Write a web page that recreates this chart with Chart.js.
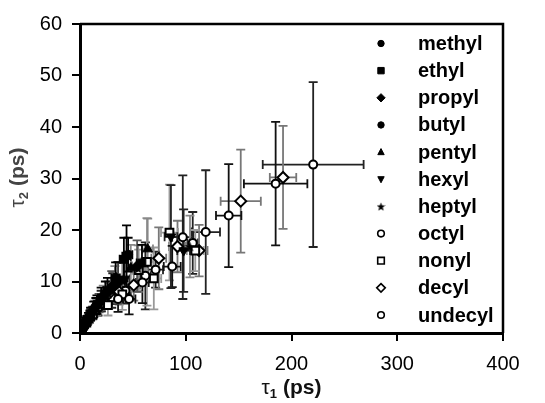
<!DOCTYPE html>
<html>
<head>
<meta charset="utf-8">
<script src="https://cdn.jsdelivr.net/npm/chart.js@4.4.1/dist/chart.umd.min.js"></script>
<style>
  html, body { margin: 0; padding: 0; background: #fff; }
  #wrap { width: 545px; height: 403px; position: relative; }
</style>
</head>
<body>
<div id="wrap"><canvas id="c" width="545" height="403"></canvas></div>
<script>
// ---- Data ----
const seriesNames = ['methyl','ethyl','propyl','butyl','pentyl','hexyl','heptyl','octyl','nonyl','decyl','undecyl'];
const xTicks = [0, 100, 200, 300, 400];
const yTicks = [0, 10, 20, 30, 40, 50, 60];

const methylX  = [0.8, 1.5, 3, 5, 8, 13, 20, 33.7, 44];
const methylY  = [0.3, 0.6, 1.2, 2, 3, 4.6, 6.8, 10.7, 14.9];
const methylXe = [0.2, 0.3, 0.5, 0.8, 1.2, 2, 3, 4, 4];
const methylYe = [0.1, 0.2, 0.4, 0.6, 0.9, 1.5, 2, 3, 6];

const ethylX  = [1, 2, 4, 6.5, 10, 16, 26, 41.5, 58.6];
const ethylY  = [0.4, 0.8, 1.6, 2.5, 3.7, 5.5, 8.2, 14.3, 13.6];
const ethylXe = [0.2, 0.4, 0.6, 1, 1.5, 2.5, 4, 4, 5];
const ethylYe = [0.1, 0.3, 0.5, 0.8, 1.2, 1.8, 2.5, 4.2, 3.5];

const propylX  = [1.2, 2.5, 4.5, 7.5, 11, 18, 30, 35.8, 54];
const propylY  = [0.4, 0.9, 1.6, 2.6, 3.8, 5.8, 9, 9.7, 13];
const propylXe = [0.2, 0.4, 0.7, 1, 1.6, 2.5, 4, 4, 5];
const propylYe = [0.1, 0.3, 0.5, 0.8, 1.1, 1.8, 3, 4, 5];

const butylX  = [0.6, 1.8, 3.5, 6, 9.5, 15, 24, 36, 45.5];
const butylY  = [0.2, 0.7, 1.4, 2.3, 3.4, 5.2, 7.6, 10.2, 15.2];
const butylXe = [0.2, 0.3, 0.6, 1, 1.5, 2.2, 3.5, 4, 4];
const butylYe = [0.1, 0.2, 0.4, 0.7, 1, 1.6, 2.4, 3.6, 3.3];

const pentylX  = [1.4, 3, 5.5, 9, 14, 22, 33, 48, 64];
const pentylY  = [0.5, 1.1, 2, 3.2, 4.8, 7, 9.8, 12.6, 16.3];
const pentylXe = [0.3, 0.5, 0.8, 1.3, 2, 3, 4, 5, 5];
const pentylYe = [0.2, 0.4, 0.6, 1, 1.5, 2.2, 3.2, 4.5, 5.9];

const hexylX  = [1, 2.2, 4, 7, 12, 20, 31, 42, 86, 98];
const hexylY  = [0.3, 0.8, 1.4, 2.4, 3.9, 6.2, 8.6, 10.5, 18.7, 16];
const hexylXe = [0.2, 0.4, 0.6, 1, 1.8, 3, 4, 5, 6, 6];
const hexylYe = [0.1, 0.3, 0.5, 0.8, 1.2, 2, 3, 4, 10, 8];

const heptylX  = [1.6, 3.2, 6, 10, 16, 27, 40, 55, 104];
const heptylY  = [0.5, 1.1, 2.1, 3.4, 5, 7.6, 10.3, 12.5, 16.8];
const heptylXe = [0.3, 0.5, 0.9, 1.5, 2.5, 3.5, 5, 6, 6];
const heptylYe = [0.2, 0.4, 0.7, 1.1, 1.6, 2.4, 3.5, 4.5, 6];

const octylX  = [4, 9, 17, 36, 46.4, 59, 87.2, 140.6, 185];
const octylY  = [1.4, 3, 4.9, 6.6, 6.6, 9.8, 12.9, 22.8, 29];
const octylXe = [0.8, 1.5, 3, 5, 6, 6, 8, 12, 30];
const octylYe = [0.4, 1, 1.5, 2.5, 3, 4, 4, 10, 12];

const nonylX  = [6, 12, 26.4, 40, 55.5, 63.3, 69.8, 84.6, 109];
const nonylY  = [2, 3.6, 5.4, 7.5, 12.2, 13.8, 10.6, 19.5, 16];
const nonylXe = [1, 2, 4, 5, 6, 6, 7, 8, 8];
const nonylYe = [0.6, 1, 2, 3, 4, 8.5, 6, 9.3, 4];

const decylX  = [8, 16, 27.6, 37, 50.8, 74.5, 92.2, 112.6, 152, 192];
const decylY  = [2.6, 4.6, 7.7, 8, 9.3, 14.5, 16.8, 16, 25.6, 30.2];
const decylXe = [1.5, 2.5, 4, 5, 6, 7, 8, 8, 19, 12.5];
const decylYe = [0.6, 1.2, 2, 2.5, 3, 6, 5, 5, 10, 10];

const undecylX  = [10, 20, 30, 43, 61.8, 71.5, 97.2, 106.6, 118.9, 220.5];
const undecylY  = [3.4, 5.7, 6.9, 8.2, 11.1, 12.3, 18.6, 17.5, 19.6, 32.7];
const undecylXe = [1.5, 3, 4, 5, 5, 7, 10, 5, 13.5, 47.7];
const undecylYe = [0.8, 1.5, 2, 2.5, 6.5, 3.5, 12, 6, 12, 16];

const allX  = [methylX, ethylX, propylX, butylX, pentylX, hexylX, heptylX, octylX, nonylX, decylX, undecylX];
const allY  = [methylY, ethylY, propylY, butylY, pentylY, hexylY, heptylY, octylY, nonylY, decylY, undecylY];
const allXe = [methylXe, ethylXe, propylXe, butylXe, pentylXe, hexylXe, heptylXe, octylXe, nonylXe, decylXe, undecylXe];
const allYe = [methylYe, ethylYe, propylYe, butylYe, pentylYe, hexylYe, heptylYe, octylYe, nonylYe, decylYe, undecylYe];

// ---- Styles ----
function makeStar(size) {
  const c = document.createElement('canvas');
  c.width = size; c.height = size;
  const g = c.getContext('2d');
  const cx = size / 2, cy = size / 2 + 0.5, R = size / 2, r = R * 0.42;
  g.beginPath();
  for (let i = 0; i < 10; i++) {
    const a = -Math.PI / 2 + i * Math.PI / 5;
    const rr = (i % 2 === 0) ? R : r;
    g.lineTo(cx + rr * Math.cos(a), cy + rr * Math.sin(a));
  }
  g.closePath();
  g.fillStyle = '#000';
  g.fill();
  return c;
}
const starBig = makeStar(11);
const starSmall = makeStar(9);

const styles = [
  { ps: 'circle',   rot: 0,   filled: true,  r: 4.5, err: '#000' },
  { ps: 'rect',     rot: 0,   filled: true,  r: 5.5, err: '#000' },
  { ps: 'rectRot',  rot: 0,   filled: true,  r: 5.5, err: '#555' },
  { ps: 'circle',   rot: 0,   filled: true,  r: 4.5, err: '#000' },
  { ps: 'triangle', rot: 0,   filled: true,  r: 5.5, err: '#888' },
  { ps: 'triangle', rot: 180, filled: true,  r: 5.5, err: '#222' },
  { ps: starBig,    rot: 0,   filled: true,  r: 5.5, err: '#888' },
  { ps: 'circle',   rot: 0,   filled: false, r: 4,   err: '#111' },
  { ps: 'rect',     rot: 0,   filled: false, r: 5.5, err: '#999' },
  { ps: 'rectRot',  rot: 0,   filled: false, r: 5.5, err: '#777' },
  { ps: 'circle',   rot: 0,   filled: false, r: 4,   err: '#222' }
];

const datasets = seriesNames.map((name, i) => ({
  label: name,
  data: allX[i].map((x, j) => ({ x: x, y: allY[i][j], xe: allXe[i][j], ye: allYe[i][j] })),
  pointStyle: styles[i].ps,
  rotation: styles[i].rot,
  pointRadius: styles[i].r,
  pointHoverRadius: styles[i].r,
  backgroundColor: styles[i].filled ? '#000' : '#fff',
  borderColor: '#000',
  borderWidth: styles[i].filled ? 1 : 2,
  errColor: styles[i].err,
  showLine: false
}));

// ---- Plugins ----
const errorBars = {
  id: 'errorBars',
  beforeDatasetsDraw(chart) {
    const ctx = chart.ctx, xs = chart.scales.x, ys = chart.scales.y, a = chart.chartArea;
    ctx.save();
    ctx.beginPath();
    ctx.rect(a.left, a.top, a.right - a.left, a.bottom - a.top);
    ctx.clip();
    ctx.lineWidth = 1.8;
    const cap = 4.5;
    for (let i = chart.data.datasets.length - 1; i >= 0; i--) {
      const ds = chart.data.datasets[i];
      ctx.strokeStyle = ds.errColor;
      ds.data.forEach(p => {
        const px = xs.getPixelForValue(p.x), py = ys.getPixelForValue(p.y);
        const x1 = xs.getPixelForValue(p.x - p.xe), x2 = xs.getPixelForValue(p.x + p.xe);
        const y1 = ys.getPixelForValue(p.y - p.ye), y2 = ys.getPixelForValue(p.y + p.ye);
        ctx.beginPath();
        ctx.moveTo(x1, py); ctx.lineTo(x2, py);
        ctx.moveTo(x1, py - cap); ctx.lineTo(x1, py + cap);
        ctx.moveTo(x2, py - cap); ctx.lineTo(x2, py + cap);
        ctx.moveTo(px, y1); ctx.lineTo(px, y2);
        ctx.moveTo(px - cap, y1); ctx.lineTo(px + cap, y1);
        ctx.moveTo(px - cap, y2); ctx.lineTo(px + cap, y2);
        ctx.stroke();
      });
    }
    ctx.restore();
  }
};

function drawMarker(ctx, style, x, y, r) {
  ctx.save();
  ctx.fillStyle = style.filled ? '#000' : '#fff';
  ctx.strokeStyle = '#000';
  ctx.lineWidth = style.filled ? 1 : 1.6;
  if (typeof style.ps !== 'string') {
    ctx.drawImage(starSmall, x - 4.5, y - 4.5);
    ctx.restore();
    return;
  }
  ctx.beginPath();
  if (style.ps === 'circle') {
    ctx.arc(x, y, r, 0, Math.PI * 2);
  } else if (style.ps === 'rect') {
    ctx.rect(x - r, y - r, 2 * r, 2 * r);
  } else if (style.ps === 'rectRot') {
    const d = r * 1.3;
    ctx.moveTo(x, y - d); ctx.lineTo(x + d, y); ctx.lineTo(x, y + d); ctx.lineTo(x - d, y);
    ctx.closePath();
  } else if (style.ps === 'triangle') {
    const s = style.rot ? -1 : 1;
    ctx.moveTo(x, y - s * r * 1.1);
    ctx.lineTo(x + r, y + s * r * 0.8);
    ctx.lineTo(x - r, y + s * r * 0.8);
    ctx.closePath();
  }
  ctx.fill();
  ctx.stroke();
  ctx.restore();
}

const legendAndFrame = {
  id: 'legendAndFrame',
  afterDraw(chart) {
    const ctx = chart.ctx, a = chart.chartArea;
    ctx.save();
    // top and right frame lines
    ctx.strokeStyle = '#000';
    ctx.lineWidth = 2.5;
    ctx.beginPath();
    ctx.moveTo(a.left, a.top); ctx.lineTo(a.right, a.top); ctx.lineTo(a.right, a.bottom);
    ctx.stroke();

    // legend
    const mx = 381, tx = 418, y0 = 43.5, dy = 27.15;
    ctx.font = 'bold 20px "Liberation Sans", Arial, sans-serif';
    ctx.fillStyle = '#000';
    ctx.textBaseline = 'middle';
    ctx.textAlign = 'left';
    chart.data.datasets.forEach((ds, i) => {
      const y = y0 + i * dy;
      drawMarker(ctx, styles[i], mx, y, styles[i].filled ? 3.2 : 3.3);
      ctx.fillStyle = '#000';
      ctx.font = 'bold 20px "Liberation Sans", Arial, sans-serif';
      ctx.fillText(ds.label, tx, y + 1);
    });

    // axis titles with subscripts
    function titleParts(sub) {
      return [
        { t: 'τ', font: '21px "Liberation Sans", Arial, sans-serif', dy: 0 },
        { t: sub, font: 'bold 13px "Liberation Sans", Arial, sans-serif', dy: 6 },
        { t: ' (ps)', font: 'bold 21px "Liberation Sans", Arial, sans-serif', dy: 0 }
      ];
    }
    function drawTitle(parts, cx, cy, color) {
      let w = 0;
      parts.forEach(p => { ctx.font = p.font; w += ctx.measureText(p.t).width; });
      let x = cx - w / 2;
      ctx.textAlign = 'left';
      ctx.textBaseline = 'middle';
      ctx.fillStyle = color;
      parts.forEach(p => { ctx.font = p.font; ctx.fillText(p.t, x, cy + p.dy); x += ctx.measureText(p.t).width; });
    }
    drawTitle(titleParts('1'), (a.left + a.right) / 2, 388, '#111');
    ctx.save();
    ctx.translate(18, (a.top + a.bottom) / 2 - 1);
    ctx.rotate(-Math.PI / 2);
    drawTitle(titleParts('2'), 0, 0, '#444');
    ctx.restore();
    ctx.restore();
  }
};

Chart.defaults.font.family = '"Liberation Sans", Arial, sans-serif';
Chart.defaults.color = '#000';

new Chart(document.getElementById('c'), {
  type: 'scatter',
  data: { datasets: datasets },
  options: {
    responsive: false,
    animation: false,
    events: [],
    layout: { padding: { left: 0, right: 42, top: 24, bottom: 0 } },
    plugins: { legend: { display: false }, tooltip: { enabled: false } },
    scales: {
      x: {
        type: 'linear', min: 0, max: 400,
        afterBuildTicks: s => { s.ticks = xTicks.map(v => ({ value: v })); },
        afterFit: s => { s.height = 70; },
        ticks: { font: { size: 20 }, color: '#000', padding: 11, maxRotation: 0 },
        grid: { drawOnChartArea: false, drawTicks: true, tickLength: 8, color: '#000', lineWidth: 2 },
        border: { display: true, color: '#000', width: 3 },
        title: { display: false }
      },
      y: {
        type: 'linear', min: 0, max: 60,
        afterBuildTicks: s => { s.ticks = yTicks.map(v => ({ value: v })); },
        afterFit: s => { s.width = 80; },
        ticks: { font: { size: 20 }, color: '#000', padding: 10 },
        grid: { drawOnChartArea: false, drawTicks: true, tickLength: 8, color: '#000', lineWidth: 2 },
        border: { display: true, color: '#000', width: 3 },
        title: { display: false }
      }
    }
  },
  plugins: [errorBars, legendAndFrame]
});
</script>
</body>
</html>
